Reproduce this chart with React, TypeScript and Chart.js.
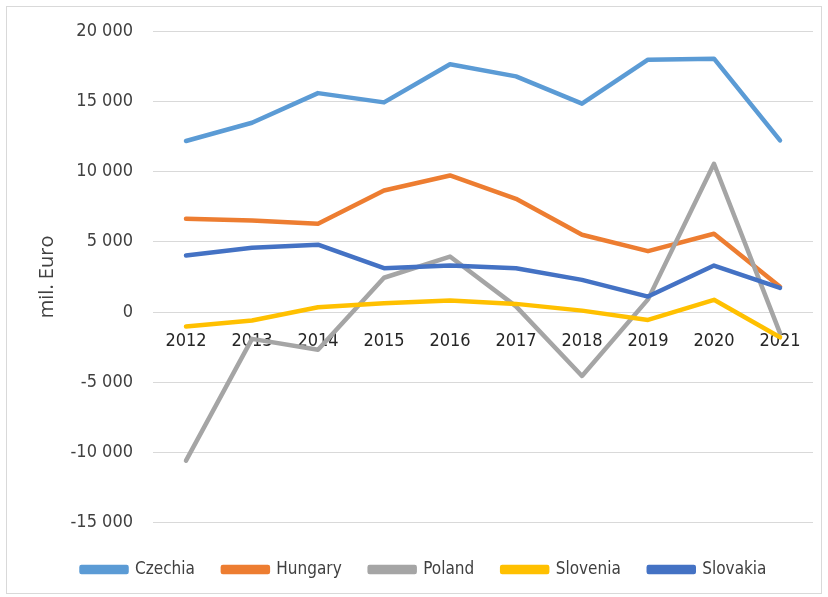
import React, { useEffect, useRef } from "react";
import { Chart, registerables } from "chart.js";

Chart.register(...registerables);

const years = ["2012", "2013", "2014", "2015", "2016", "2017", "2018", "2019", "2020", "2021"];
const czechia = [12170, 13470, 15580, 14920, 17630, 16770, 14830, 17960, 18030, 12210];
const hungary = [6640, 6520, 6280, 8650, 9720, 8060, 5500, 4330, 5570, 1800];
const poland = [-10580, -1910, -2690, 2440, 3950, 400, -4550, 900, 10550, -1500];
const slovenia = [-1030, -600, 340, 630, 820, 580, 100, -560, 870, -1800];
const slovakia = [4020, 4570, 4790, 3120, 3310, 3120, 2290, 1100, 3310, 1720];

const seriesNames = ["Czechia", "Hungary", "Poland", "Slovenia", "Slovakia"];
const seriesValues = [czechia, hungary, poland, slovenia, slovakia];
const seriesColors = ["#5B9BD5", "#ED7D31", "#A5A5A5", "#FFC000", "#4472C4"];

const yMin = -15000;
const yMax = 20000;
const yStep = 5000;
const yTitle = "mil. Euro";

const narrow = "'Liberation Sans Narrow', 'DejaVu Sans Condensed', 'Noto Sans', sans-serif";

function fmt(v: number): string {
  const s = Math.abs(v).toString().replace(/\B(?=(\d{3})+(?!\d))/g, " ");
  return (v < 0 ? "-" : "") + s;
}

export default function App() {
  const ref = useRef<HTMLCanvasElement | null>(null);
  useEffect(() => {
    if (!ref.current) return;
    const chart = new Chart(ref.current, {
      type: "line",
      data: {
        labels: years,
        datasets: seriesNames.map((name, i) => ({
          label: name,
          data: seriesValues[i],
          borderColor: seriesColors[i],
          backgroundColor: seriesColors[i],
          borderWidth: 4.5,
          pointRadius: 0,
          tension: 0,
          borderJoinStyle: "round" as const,
          borderCapStyle: "round" as const,
          order: seriesNames.length - i,
        })),
      },
      options: {
        responsive: false,
        animation: false,
        layout: { padding: { left: 28, top: 24, right: 8, bottom: 5 } },
        plugins: {
          tooltip: { enabled: false },
          legend: {
            position: "bottom",
            title: {
              display: true,
              text: " ",
              font: { size: 1 },
              padding: { top: 0, bottom: 9 },
            },
            labels: {
              boxWidth: 45,
              boxHeight: 5,
              padding: 28,
              color: "#404040",
              font: { family: narrow, size: 17 },
              sort: (a: any, b: any) => a.datasetIndex - b.datasetIndex,
            },
          },
        },
        scales: {
          x: {
            position: { y: 0 } as any,
            offset: true,
            afterFit: (axis: any) => {
              axis.height = 0;
              axis.paddingTop = 0;
              axis.paddingBottom = 0;
            },
            grid: { display: false, drawTicks: false },
            border: { display: false },
            ticks: {
              color: "#262626",
              padding: 18,
              font: { family: narrow, size: 18 },
              maxRotation: 0,
            },
          },
          y: {
            min: yMin,
            max: yMax,
            afterFit: (axis: any) => {
              axis.width = 118;
              axis.paddingTop = 0;
              axis.paddingBottom = 0;
            },
            ticks: {
              stepSize: yStep,
              color: "#404040",
              padding: 20,
              font: { family: narrow, size: 18 },
              callback: (v: any) => fmt(Number(v)),
            },
            grid: { color: "#D9D9D9", lineWidth: 1, drawTicks: false },
            border: { display: false },
            title: {
              display: true,
              text: yTitle,
              color: "#404040",
              font: { family: "'Open Sans', sans-serif", size: 20 },
              padding: 0,
            },
          },
        },
      },
    });
    return () => chart.destroy();
  }, []);
  return (
    <div
      style={{
        position: "absolute",
        left: 6,
        top: 6,
        width: 816,
        height: 588,
        border: "1px solid #D9D9D9",
        boxSizing: "border-box",
        background: "#fff",
      }}
    >
      <canvas ref={ref} width={814} height={586} style={{ display: "block" }} />
    </div>
  );
}
